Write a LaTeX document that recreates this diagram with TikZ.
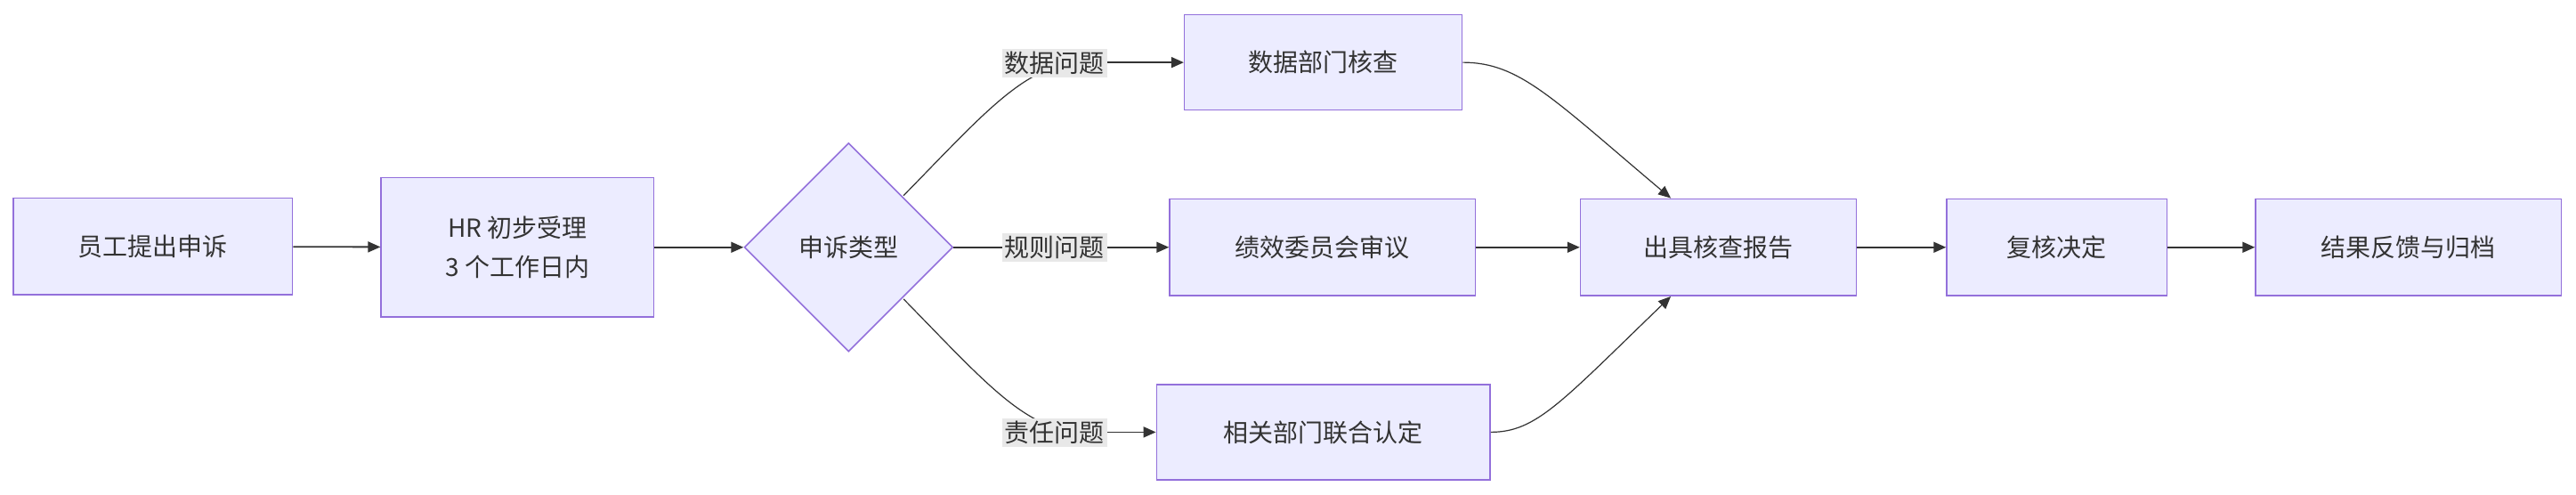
\documentclass[tikz,border=0pt]{standalone}
\usepackage{fontspec}
\setmainfont{Noto Sans CJK SC}
\usetikzlibrary{shapes.geometric,arrows.meta}
\definecolor{bfill}{HTML}{ECECFF}
\definecolor{bline}{HTML}{9370DB}
\definecolor{ed}{HTML}{333333}
\definecolor{lbg}{HTML}{E8E8E8}
\begin{document}
\begin{tikzpicture}[x=0.92285pt,y=-0.92285pt,
  box/.style={draw=bline,fill=bfill,line width=0.8pt,inner sep=0pt,font=\fontsize{14}{22}\selectfont,align=center,text=ed},
  lab/.style={fill=lbg,inner sep=1.5pt,font=\fontsize{14}{17}\selectfont,text=ed},
  ar/.style={draw=ed,line width=0.9pt,-{Triangle[length=7pt,width=6pt]}}]
\useasboundingbox (0,0) rectangle (1568,301.2);
\node[box,minimum width=170\pgflinewidth,minimum width=156.9pt,minimum height=54.4pt] (a) at (93,150) {员工提出申诉};
\node[box,minimum width=153.2pt,minimum height=78.4pt] (b) at (315,150.5) {HR 初步受理\\3 个工作日内};
\node[diamond,aspect=1,draw=bline,fill=bfill,line width=0.8pt,minimum width=117.2pt,minimum height=117.2pt,inner sep=0pt,font=\fontsize{14}{17}\selectfont,text=ed,xscale=1,yscale=1] (c) at (516.5,150.5) {};
\node[font=\fontsize{14}{17}\selectfont,text=ed] at (c) {申诉类型};
\node[box,minimum width=156pt,minimum height=53.5pt] (d) at (805.5,38) {数据部门核查};
\node[box,minimum width=171.7pt,minimum height=54.4pt] (e) at (805,150.5) {绩效委员会审议};
\node[box,minimum width=187.3pt,minimum height=53.5pt] (f) at (805.5,263) {相关部门联合认定};
\node[box,minimum width=155pt,minimum height=54.4pt] (g) at (1046,150.5) {出具核查报告};
\node[box,minimum width=123.7pt,minimum height=54.4pt] (h) at (1252,150.5) {复核决定};
\node[box,minimum width=171.7pt,minimum height=54.4pt] (i) at (1466,150.5) {结果反馈与归档};
\coordinate (c1) at (550,119);
\coordinate (c3) at (550,182);
\coordinate (l1) at (660,38);
\coordinate (l3) at (660,263);
\draw[ar] (a) -- (b);
\draw[ar] (b) -- (c.west);
\draw[draw=ed,line width=0.6pt] (c1) .. controls (600,68) and (625,38) .. (l1);
\draw[ar] (l1) -- (d);
\draw[ar] (c.east) -- (e);
\draw[draw=ed,line width=0.6pt] (c3) .. controls (600,233) and (625,263) .. (l3);
\draw[ar] (l3) -- (f);
\draw[ar,line width=0.6pt] (d.east) .. controls (925,38) and (945,60) .. (g.north west -| 1017,0);
\draw[ar] (e) -- (g);
\draw[ar,line width=0.6pt] (f.east) .. controls (935,263) and (950,245) .. (g.south west -| 1017,0);
\draw[ar] (g) -- (h);
\draw[ar] (h) -- (i);
\node[lab] (m1) at (642,38.5) {数据问题};
\node[lab] (m2) at (642,150.5) {规则问题};
\node[lab] (m3) at (642,263.5) {责任问题};
\end{tikzpicture}
\end{document}
